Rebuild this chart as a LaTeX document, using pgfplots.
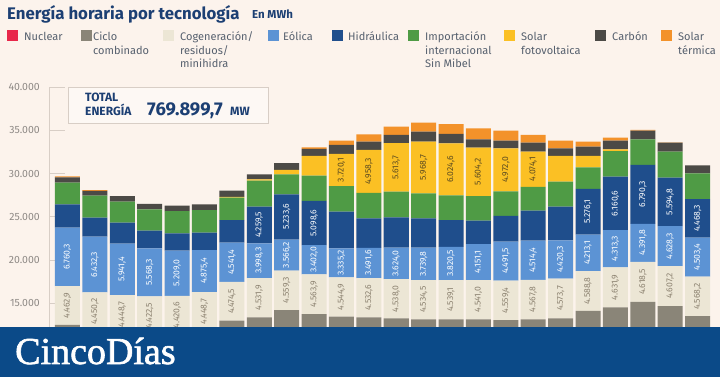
\documentclass[border=0pt]{standalone}
\usepackage{pgfplots}
\pgfplotsset{compat=1.18}
\usepackage{pgfplotstable}
\usepackage{fontspec}
\setmainfont{Fira Sans}
\newfontfamily\logofont[FakeBold=1.6]{Liberation Serif}
\definecolor{bg}{HTML}{FCF3EC}
\definecolor{nucc}{HTML}{E8274A}
\definecolor{ccc}{HTML}{8A8578}
\definecolor{cogc}{HTML}{ECE6D5}
\definecolor{eolc}{HTML}{5C93D4}
\definecolor{hidc}{HTML}{1F4E8C}
\definecolor{impc}{HTML}{4F9B45}
\definecolor{fvc}{HTML}{FBC024}
\definecolor{carc}{HTML}{4C4A46}
\definecolor{stc}{HTML}{F3922A}
\definecolor{titc}{HTML}{1C3F73}
\definecolor{legc}{HTML}{56606E}
\definecolor{tickc}{HTML}{8F8A86}
\definecolor{axc}{HTML}{D8CEC6}
\definecolor{bannerc}{HTML}{0B4A88}
\definecolor{coglab}{HTML}{8B816F}
\definecolor{fvlab}{HTML}{5A4A20}

\pgfplotstableread{
x nuc cc cog eol hid imp fv carb st lcog leol lhid lfv
1 7100 5426 4462.9 6760.3 2703 2495 0 620 100 4.462,9 6.760,3 n n
2 7100 4728 4450.2 6432.3 2194 2541 0 543 100 4.450,2 6.432,3 n n
3 7100 4411 4448.7 5941.4 2425 2425 0 655 0 4.448,7 5.941,4 n n
4 7100 4280 4422.5 5568.3 2033 2472 0 613 0 4.422,5 5.568,3 n n
5 7100 4363 4420.6 5209.0 2009 2576 0 612 0 4.420,6 5.209,0 n n
6 7100 4749 4448.7 4875.4 1998 2622 0 659 0 4.448,7 4.875,4 n n
7 7100 5907 4474.5 4541.4 2615 2576 100 708 0 4.474,5 4.541,4 n n
8 7100 6300 4531.9 3998.3 4259.5 2988 150 590 0 4.531,9 3.998,3 4.259,5 n
9 7100 7143 4559.3 3566.2 5233.6 2315 496 808 0 4.559,3 3.566,2 5.233,6 n
10 7100 6681 4563.9 3402.0 5098.6 2910 2276 808 196 4.563,9 3.402,0 5.098,6 n
11 7100 6370 4544.9 3335.2 4248 2944 3720.1 1039 497 4.544,9 3.335,2 n 3.720,1
12 7100 6300 4532.6 3491.6 3411 2930 4958.3 959 855 4.532,6 3.491,6 n 4.958,3
13 7100 6179 4538.0 3624.0 3509 2957 5613.7 935 959 4.538,0 3.624,0 n 5.613,7
14 7100 6067 4534.5 3739.8 3394 2878 5968.7 1155 1040 4.534,5 3.739,8 n 5.968,7
15 7100 6067 4539.1 3820.5 3111 2834 6024.6 1075 1154 4.539,1 3.820,5 n 6.024,6
16 7100 6067 4541.0 4151.1 2699 2827 5604.2 970 1271 4.541,0 4.151,1 n 5.604,2
17 7100 5988 4559.4 4491.5 2962 2847 4972.0 878 1159 4.559,4 4.491,5 n 4.972,0
18 7100 6067 4567.8 4514.4 3464 2740 4074.1 1040 889 4.567,8 4.514,4 n 4.074,1
19 7100 6179 4573.7 4420.3 3902 2887 2969 889 878 4.573,7 4.420,3 n n
20 7100 7041 4588.8 4213.1 5276.1 2503 1309 1074 577 4.588,8 4.213,1 5.276,1 n
21 7100 7434 4631.9 4313.3 6160.6 2964 200 994 351 4.631,9 4.313,3 6.160,6 n
22 7100 8091 4618.5 4391.8 6790.3 2968 0 998 80 4.618,5 4.391,8 6.790,3 n
23 7100 7594 4607.2 4628.3 5594.8 3003 0 1040 50 4.607,2 4.628,3 5.594,8 n
24 7100 6423 4568.2 4503.4 4468.3 2970 0 919 0 4.568,2 4.503,4 4.468,3 n
}\data

\pgfplotsset{
  frameaxis/.style={at={(49pt,0pt)}, anchor=south west, scale only axis,
    width=666pt, height=290pt, xmin=0.325, xmax=24.635, ymin=6505, ymax=40000}
}

\begin{document}
\begin{tikzpicture}[x=1pt,y=1pt]
\useasboundingbox (0,0) rectangle (720,377);
\fill[bg] (0,0) rectangle (720,377);

\begin{axis}[frameaxis,
  ybar stacked, bar width=25pt,
  xtick=\empty,
  axis lines*=left,
  x axis line style={draw=none},
  y axis line style={draw=axc, line width=0.8pt},
  ytick={15000,20000,25000,30000,35000,40000},
  tick align=inside, major tick length=16pt,
  ytick style={draw=axc, line width=0.8pt},
  scaled y ticks=false,
  yticklabel style={font=\fontsize{10.5}{12}\selectfont, text=tickc, inner xsep=0pt, xshift=-9pt},
  /pgf/number format/1000 sep={.},
  /pgf/number format/assume math mode=true]
\addplot[fill=nucc, draw=none] table[x=x, y=nuc]{\data};
\addplot[fill=ccc, draw=none] table[x=x, y=cc]{\data};
\addplot[fill=cogc, draw=none] table[x=x, y=cog]{\data};
\addplot[fill=eolc, draw=none] table[x=x, y=eol]{\data};
\addplot[fill=hidc, draw=none] table[x=x, y=hid]{\data};
\addplot[fill=impc, draw=none] table[x=x, y=imp]{\data};
\addplot[fill=fvc, draw=none] table[x=x, y=fv]{\data};
\addplot[fill=carc, draw=none] table[x=x, y=carb]{\data};
\addplot[fill=stc, draw=none] table[x=x, y=st]{\data};
\end{axis}

\begin{axis}[frameaxis, hide axis, clip=false,
  point meta=explicit symbolic,
  nodes near coords={\pgfplotspointmeta},
  every node near coord/.append style={rotate=90, anchor=center, inner sep=0pt,
     font=\fontsize{8.6}{9}\selectfont}]
\addplot[draw=none, mark=none, every node near coord/.append style={text=coglab}]
  table[x=x, y expr=\thisrow{nuc}+\thisrow{cc}+0.5*\thisrow{cog}, meta=lcog]{\data};
\addplot[draw=none, mark=none, every node near coord/.append style={text=white}]
  table[x=x, y expr=\thisrow{nuc}+\thisrow{cc}+\thisrow{cog}+0.5*\thisrow{eol}, meta=leol]{\data};
\addplot[draw=none, mark=none, restrict x to domain=7.5:10.5, every node near coord/.append style={text=white}]
  table[x=x, y expr=\thisrow{nuc}+\thisrow{cc}+\thisrow{cog}+\thisrow{eol}+0.5*\thisrow{hid}, meta=lhid]{\data};
\addplot[draw=none, mark=none, restrict x to domain=19.5:24.5, every node near coord/.append style={text=white}]
  table[x=x, y expr=\thisrow{nuc}+\thisrow{cc}+\thisrow{cog}+\thisrow{eol}+0.5*\thisrow{hid}, meta=lhid]{\data};
\addplot[draw=none, mark=none, restrict x to domain=10.5:18.5, every node near coord/.append style={text=fvlab}]
  table[x=x, y expr=\thisrow{nuc}+\thisrow{cc}+\thisrow{cog}+\thisrow{eol}+\thisrow{hid}+\thisrow{imp}+0.5*\thisrow{fv}, meta=lfv]{\data};
\end{axis}

% banner
\fill[bannerc] (0,0) rectangle (720,50);
\node[anchor=base west, inner sep=0pt, text=white, font=\logofont\fontsize{38}{40}\selectfont] at (15,13) {CincoDías};

% total box
\draw[axc, fill=bg!60!white, line width=0.8pt] (68,254) rectangle (268,290);
\node[anchor=base west, inner sep=0pt, text=titc, font=\fontsize{12}{14}\selectfont\bfseries] at (85,275.3) {TOTAL};
\node[anchor=base west, inner sep=0pt, text=titc, font=\fontsize{12}{14}\selectfont\bfseries] at (85,261) {ENERGÍA};
\node[anchor=base west, inner sep=0pt, text=titc, font=\fontsize{18.5}{20}\selectfont\bfseries] at (147,261) {769.899,7};
\node[anchor=base west, inner sep=0pt, text=titc, font=\fontsize{12}{14}\selectfont\bfseries] at (230,261) {MW};

% title
\node[anchor=base west, inner sep=0pt, text=titc, font=\fontsize{16.8}{19}\selectfont\bfseries] at (7,357.7) {Energía horaria por tecnología};
\node[anchor=base west, inner sep=0pt, text=titc, font=\fontsize{11.5}{13}\selectfont\bfseries] at (252,358) {En MWh};

% legend
\def\legsq#1#2{\fill[#2] (#1,335.7) rectangle ++(11,11);}
\tikzset{lt/.style={anchor=base west, inner sep=0pt, text=legc, font=\fontsize{11}{13}\selectfont}}
\legsq{7}{nucc}  \node[lt] at (24,336.3) {Nuclear};
\legsq{81}{ccc}  \node[lt] at (93,336.3) {Ciclo}; \node[lt] at (93,322.8) {combinado};
\legsq{163}{cogc} \node[lt] at (180,336.3) {Cogeneración/}; \node[lt] at (180,322.8) {residuos/}; \node[lt] at (180,309.3) {minihidra};
\legsq{268}{eolc} \node[lt] at (283,336.3) {Eólica};
\legsq{332}{hidc} \node[lt] at (348,336.3) {Hidráulica};
\legsq{408}{impc} \node[lt] at (425,336.3) {Importación}; \node[lt] at (425,322.8) {internacional}; \node[lt] at (425,309.3) {Sin Mibel};
\legsq{504}{fvc} \node[lt] at (521,336.3) {Solar}; \node[lt] at (521,322.8) {fotovoltaica};
\legsq{595}{carc} \node[lt] at (612,336.3) {Carbón};
\legsq{661}{stc} \node[lt] at (678,336.3) {Solar}; \node[lt] at (678,322.8) {térmica};
\end{tikzpicture}
\end{document}
